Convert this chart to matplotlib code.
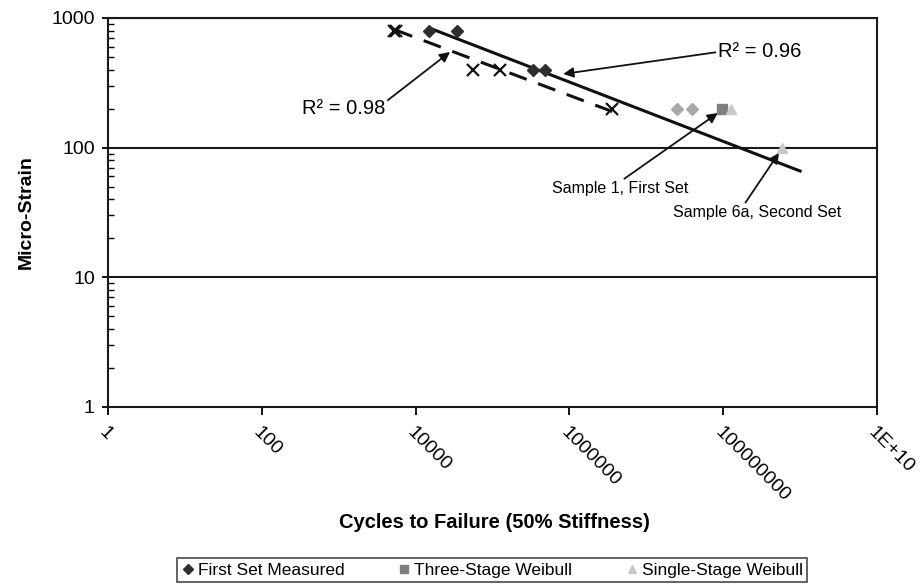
import matplotlib.pyplot as plt
from matplotlib.ticker import FixedLocator, LogLocator, NullFormatter

plt.rcParams['font.family'] = ['Liberation Sans', 'DejaVu Sans']

# First set, measured cycles to failure
first_set_x = [1.5e4, 3.5e4, 3.4e5, 4.8e5]
first_set_y = [800, 800, 400, 400]

# further measured points (lighter)
extra_set_x = [2.5e7, 3.9e7]
extra_set_y = [200, 200]

# second set (crosses)
second_set_x = [5.2e3, 5.6e3, 5.6e4, 1.25e5, 3.6e6]
second_set_y = [800, 800, 400, 400, 200]

three_stage_x = [9.6e7]
three_stage_y = [200]

single_stage_x = [1.26e8, 5.8e8]
single_stage_y = [200, 100]

# power-law trend lines (end points)
trend_solid_x = [1.5e4, 1.0e9]
trend_solid_y = [838, 66]
trend_dashed_x = [5.4e3, 3.6e6]
trend_dashed_y = [810, 190]

x_ticks = [1, 1e2, 1e4, 1e6, 1e8, 1e10]
x_tick_labels = ['1', '100', '10000', '1000000', '100000000', '1E+10']
y_ticks = [1, 10, 100, 1000]
y_tick_labels = ['1', '10', '100', '1000']

fig = plt.figure(figsize=(9.24, 5.84), dpi=100)
ax = fig.add_axes([0.1169, 0.3031, 0.8323, 0.6661])

ax.set_xscale('log')
ax.set_yscale('log')
ax.set_xlim(1, 1e10)
ax.set_ylim(1, 1000)

for yv in [10, 100, 1000]:
    ax.axhline(yv, color='#1a1a1a', lw=1.5, zorder=1)

ax.plot(trend_solid_x, trend_solid_y, color='#111111', lw=2.2, zorder=3)
ax.plot(trend_dashed_x, trend_dashed_y, color='#111111', lw=2.2,
        dashes=(6, 4), zorder=3)

ax.plot(first_set_x, first_set_y, 'D', color='#2e2e2e', ms=6, ls='none',
        zorder=4, label='First Set Measured')
ax.plot(extra_set_x, extra_set_y, 'D', color='#a8a8a8', ms=6, ls='none',
        zorder=4)
ax.plot(second_set_x, second_set_y, 'x', color='#111111', ms=8, mew=1.6,
        ls='none', zorder=4)
ax.plot(three_stage_x, three_stage_y, 's', color='#7f7f7f', ms=6.5,
        ls='none', zorder=4, label='Three-Stage Weibull')
ax.plot(single_stage_x, single_stage_y, '^', color='#c8c8c8', ms=7,
        ls='none', zorder=4, label='Single-Stage Weibull')

arrow = dict(arrowstyle='-|>', color='#111111', lw=1.3,
             mutation_scale=15, shrinkA=0, shrinkB=0)

ax.annotate('R² = 0.96', xy=(8.3e5, 370), xytext=(8.6e7, 547),
            fontsize=14.5, ha='left', va='center',
            arrowprops=dict(arrow, relpos=(0, 0.5)))
ax.annotate('R² = 0.98', xy=(2.8e4, 547), xytext=(4.0e3, 202),
            fontsize=14.5, ha='right', va='center',
            arrowprops=dict(arrow, relpos=(1, 0.8)))
ax.annotate('Sample 1, First Set', xy=(8.5e7, 185), xytext=(4.6e6, 48),
            fontsize=11.5, ha='center', va='center',
            arrowprops=dict(arrow, relpos=(0.5, 1)))
ax.annotate('Sample 6a, Second Set', xy=(5.3e8, 91), xytext=(2.75e8, 31.4),
            fontsize=11.5, ha='center', va='center',
            arrowprops=dict(arrow, relpos=(0.42, 1)))

ax.xaxis.set_major_locator(FixedLocator(x_ticks))
ax.set_xticklabels(x_tick_labels, rotation=-45, ha='left', va='top',
                   rotation_mode='anchor', fontsize=14)
ax.xaxis.set_minor_formatter(NullFormatter())
ax.tick_params(axis='x', which='minor', length=0)
ax.tick_params(axis='x', which='major', direction='out', length=6,
               width=1.3, pad=6)

ax.yaxis.set_major_locator(FixedLocator(y_ticks))
ax.set_yticklabels(y_tick_labels, fontsize=14)
ax.yaxis.set_minor_locator(LogLocator(base=10, subs=range(2, 10)))
ax.yaxis.set_minor_formatter(NullFormatter())
ax.tick_params(axis='y', which='major', direction='out', length=4.5,
               width=1.3, pad=5)
ax.tick_params(axis='y', which='minor', direction='in', length=4, width=1)

for side in ['left', 'bottom', 'top', 'right']:
    ax.spines[side].set_linewidth(1.5)
    ax.spines[side].set_color('#1a1a1a')

ax.set_ylabel('Micro-Strain', fontsize=14, fontweight='bold')
ax.yaxis.set_label_coords(-0.106, 0.5)
ax.yaxis.label.set_va('center')
ax.set_xlabel('Cycles to Failure (50% Stiffness)', fontsize=14.5,
              fontweight='bold')
ax.xaxis.set_label_coords(0.503, -0.298)
ax.xaxis.label.set_va('center')

leg = fig.legend(loc='center', bbox_to_anchor=(492 / 924, 1 - 570 / 584),
                 ncol=3, fontsize=12.5, frameon=True, fancybox=False,
                 edgecolor='#1a1a1a', handlelength=0.8, handletextpad=0.2,
                 columnspacing=3.0, borderpad=0.25, markerscale=0.8)
leg.get_frame().set_linewidth(1.2)

fig.savefig('out.png', dpi=100)
